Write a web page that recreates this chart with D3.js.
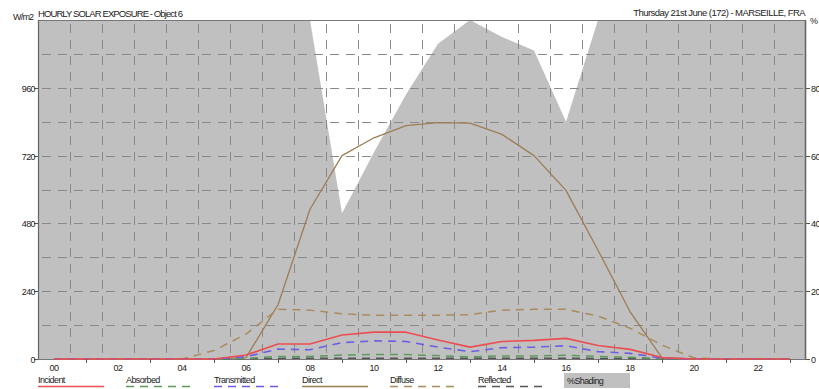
<!DOCTYPE html>
<html>
<head>
<meta charset="utf-8">
<script src="https://cdn.jsdelivr.net/npm/d3@7"></script>
<style>
  html, body { margin: 0; padding: 0; background: #fff; }
  svg { display: block; font-family: "Liberation Sans", Arial, sans-serif; }
</style>
</head>
<body>
<svg id="chart" width="819" height="389"></svg>
<script>
// Hourly values for 21st June, one entry per hour 00..23
const hours = d3.range(24);
const hourLabels = ["00", "02", "04", "06", "08", "10", "12", "14", "16", "18", "20", "22"];
const wattTicks = [0, 240, 480, 720, 960];
const percentTicks = [0, 20, 40, 60, 80];

const incident    = [0,0,0,0,0,0,14,53,53,85,95,95,67,42,62,66,73,48,34,5,0,0,0,0];
const absorbed    = [0,0,0,0,0,0,2,9,9,14,16,16,12,8,11,11,13,9,6,1,0,0,0,0];
const transmitted = [0,0,0,0,0,0,8,35,33,58,64,62,42,26,40,42,47,26,20,3,0,0,0,0];
const direct      = [0,0,0,0,0,0,5,192,530,720,783,826,837,835,795,720,597,385,168,4,0,0,0,0];
const diffuse     = [0,0,0,0,0,30,88,176,173,160,155,155,155,157,173,176,176,152,109,49,4,0,0,0];
const reflected   = [0,0,0,0,0,0,1,2,3,3,3,3,3,3,3,3,3,2,2,1,0,0,0,0];
const shading     = [100,100,100,100,100,100,100,100,100,43,61,78,93,100,95,91,70,100,100,100,100,100,100,100];

const series = [
  { name: "Direct",      values: direct,      color: "#9c7d55", width: 1.3, dash: null },
  { name: "Diffuse",     values: diffuse,     color: "#a88c5e", width: 1.5, dash: "8,6" },
  { name: "Reflected",   values: reflected,   color: "#555555", width: 1.5, dash: "8,6" },
  { name: "Absorbed",    values: absorbed,    color: "#5c9a5e", width: 1.5, dash: "8,6" },
  { name: "Transmitted", values: transmitted, color: "#6a5ee6", width: 1.6, dash: "8,6" },
  { name: "Incident",    values: incident,    color: "#ec4d52", width: 1.6, dash: null }
];
const legendOrder = ["Incident", "Absorbed", "Transmitted", "Direct", "Diffuse", "Reflected"];

const svg = d3.select("#chart");
const plotL = 38, plotR = 806, plotT = 20, plotB = 359;

const x = d3.scaleLinear().domain([0, 24]).range([plotL, plotR]);
const y = d3.scaleLinear().domain([0, 1200]).range([plotB, plotT]);
const yPct = d3.scaleLinear().domain([0, 100]).range([plotB, plotT]);

// Plot background (unshaded part)
svg.append("rect").attr("x", plotL).attr("y", plotT)
  .attr("width", plotR - plotL).attr("height", plotB - plotT).attr("fill", "#ffffff");

// %Shading area, extended to the edges of the day
const shadePts = [[0, shading[0]]]
  .concat(hours.map(h => [h + 0.5, shading[h]]))
  .concat([[24, shading[23]]]);
svg.append("path")
  .datum(shadePts)
  .attr("fill", "#c0c0c0")
  .attr("d", d3.area().x(d => x(d[0])).y0(plotB).y1(d => yPct(d[1])));

// Dashed grid
const grid = svg.append("g").attr("stroke", "#8a8a8a").attr("stroke-width", 1)
  .attr("stroke-dasharray", "9,7").attr("fill", "none");
grid.selectAll("line.h").data(d3.range(120, 1200, 120)).join("line")
  .attr("x1", plotL + 4).attr("x2", plotR)
  .attr("y1", d => Math.round(y(d)) + 0.5).attr("y2", d => Math.round(y(d)) + 0.5);
grid.selectAll("line.v").data(d3.range(1, 24)).join("line")
  .attr("y1", plotT + 4).attr("y2", plotB)
  .attr("x1", d => Math.round(x(d)) + 0.5).attr("x2", d => Math.round(x(d)) + 0.5);

// Frame
svg.append("line").attr("x1", plotL).attr("x2", plotR).attr("y1", plotT + 0.5).attr("y2", plotT + 0.5)
  .attr("stroke", "#777").attr("stroke-width", 1.2);
svg.append("line").attr("x1", plotL).attr("x2", plotR).attr("y1", plotB + 0.5).attr("y2", plotB + 0.5)
  .attr("stroke", "#777").attr("stroke-width", 1);
svg.append("line").attr("x1", plotL + 0.5).attr("x2", plotL + 0.5).attr("y1", plotT).attr("y2", plotB)
  .attr("stroke", "#666").attr("stroke-width", 1.2);
svg.append("line").attr("x1", plotR - 0.5).attr("x2", plotR - 0.5).attr("y1", plotT).attr("y2", plotB)
  .attr("stroke", "#666").attr("stroke-width", 1.6);

// Series lines
const line = d3.line().x((d, i) => x(i + 0.5)).y(d => y(d));
series.forEach(s => {
  svg.append("path")
    .datum(s.values)
    .attr("fill", "none")
    .attr("stroke", s.color)
    .attr("stroke-width", s.width)
    .attr("stroke-dasharray", s.dash)
    .attr("stroke-linejoin", "round")
    .attr("d", line);
});

// Left axis (W/m2)
const leftAxis = svg.append("g").attr("font-size", 9).attr("fill", "#222");
wattTicks.forEach(t => {
  const yy = Math.round(y(t)) + 0.5;
  leftAxis.append("line").attr("x1", plotL - 4).attr("x2", plotL).attr("y1", yy).attr("y2", yy)
    .attr("stroke", "#555");
  leftAxis.append("text").attr("x", plotL - 3).attr("y", yy + 3).attr("text-anchor", "end")
    .attr("letter-spacing", -0.6).text(t);
});

// Right axis (%)
const rightAxis = svg.append("g").attr("font-size", 9).attr("fill", "#222");
percentTicks.forEach(t => {
  const yy = Math.round(yPct(t)) + 0.5;
  rightAxis.append("line").attr("x1", plotR).attr("x2", plotR + 4).attr("y1", yy).attr("y2", yy)
    .attr("stroke", "#555");
  rightAxis.append("text").attr("x", plotR + 5).attr("y", yy + 3)
    .attr("letter-spacing", -0.6).text(t);
});

// Bottom axis: hour labels on even hours, ticks on odd hours
const xAxis = svg.append("g").attr("font-size", 9).attr("fill", "#222");
xAxis.selectAll("line").data(d3.range(1, 24, 2)).join("line")
  .attr("x1", d => Math.round(x(d + 0.5)) + 0.5).attr("x2", d => Math.round(x(d + 0.5)) + 0.5)
  .attr("y1", plotB).attr("y2", plotB + 4).attr("stroke", "#555");
xAxis.selectAll("text").data(hourLabels).join("text")
  .attr("x", (d, i) => x(i * 2 + 0.5)).attr("y", plotB + 12)
  .attr("text-anchor", "middle").attr("letter-spacing", -0.6).text(d => d);

// Titles
svg.append("text").attr("x", 13).attr("y", 20).attr("font-size", 9).attr("fill", "#222")
  .attr("letter-spacing", -0.8).text("W/m2");
svg.append("text").attr("x", 38).attr("y", 17).attr("font-size", 9.5).attr("fill", "#222")
  .attr("letter-spacing", -0.9)
  .text("HOURLY SOLAR EXPOSURE - Object 6");
svg.append("text").attr("x", 805).attr("y", 16).attr("font-size", 9.5).attr("fill", "#222")
  .attr("text-anchor", "end").attr("letter-spacing", -0.55)
  .text("Thursday 21st June (172) - MARSEILLE, FRA");
svg.append("text").attr("x", 810).attr("y", 24).attr("font-size", 9).attr("fill", "#222").text("%");

// Legend
const legend = svg.append("g").attr("font-size", 9).attr("fill", "#222");
legendOrder.forEach((name, i) => {
  const s = series.find(d => d.name === name);
  const lx = 38 + i * 88;
  legend.append("text").attr("x", lx).attr("y", 383).attr("letter-spacing", -0.6).text(name);
  legend.append("line").attr("x1", lx).attr("x2", lx + 66).attr("y1", 386.5).attr("y2", 386.5)
    .attr("stroke", s.color).attr("stroke-width", 1.5).attr("stroke-dasharray", s.dash);
});
legend.append("rect").attr("x", 564).attr("y", 373).attr("width", 66).attr("height", 15)
  .attr("fill", "#c0c0c0");
legend.append("text").attr("x", 567).attr("y", 384).attr("letter-spacing", -0.6).text("%Shading");
</script>
</body>
</html>
